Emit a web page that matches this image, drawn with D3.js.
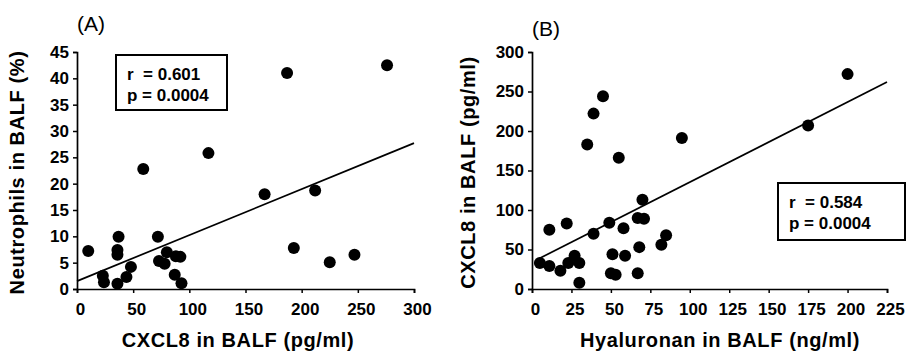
<!DOCTYPE html>
<html>
<head>
<meta charset="utf-8">
<script src="https://cdn.jsdelivr.net/npm/d3@7"></script>
<style>
  body { margin: 0; background: #fff; }
  svg text { font-family: "Liberation Sans", Arial, sans-serif; fill: #000; }
</style>
</head>
<body>
<div id="chart"></div>
<script>
// panel A: CXCL8 vs neutrophils
const cxcl8A = [10, 23, 24, 36, 37, 36, 36, 44, 48, 59, 72, 73, 78, 80, 88, 92, 87, 93, 117, 167, 187, 193, 212, 225, 247, 276];
const neutroA = [7.2, 2.5, 1.3, 1.0, 9.9, 7.4, 6.5, 2.3, 4.2, 22.8, 9.9, 5.3, 4.8, 7.0, 6.2, 6.1, 2.7, 1.1, 25.8, 18.0, 41.0, 7.8, 18.7, 5.1, 6.5, 42.5];
const fitAx = [0, 300];
const fitAy = [1.5, 27.7];
const ticksAx = [0, 50, 100, 150, 200, 250, 300];
const ticksAy = [0, 5, 10, 15, 20, 25, 30, 35, 40, 45];
const statsA = ['r  = 0.601', 'p = 0.0004'];

// panel B: hyaluronan vs CXCL8
const hyalB = [5, 11, 11, 18, 22, 23, 27, 30, 30, 39, 49, 51, 50, 53, 58, 59, 67, 68, 70, 67, 71, 82, 85, 45, 39, 35, 55, 95, 200, 175];
const cxcl8B = [33, 75, 29, 23, 83, 33, 42, 33, 8, 70, 84, 44, 20, 18, 77, 42, 20, 53, 113, 90, 89, 56, 68, 244, 222, 183, 166, 191, 272, 207];
const fitBx = [3, 225];
const fitBy = [37, 262];
const ticksBx = [0, 25, 50, 75, 100, 125, 150, 175, 200, 225];
const ticksBy = [0, 50, 100, 150, 200, 250, 300];
const statsB = ['r  = 0.584', 'p = 0.0004'];

const width = 910;
const height = 359;

const svg = d3.select('#chart')
  .append('svg')
  .attr('width', width)
  .attr('height', height);

function drawPanel(p) {
  const x = d3.scaleLinear().domain(p.xDomain).range([p.left, p.right]);
  const y = d3.scaleLinear().domain(p.yDomain).range([p.bottom, p.top]);
  const g = svg.append('g');

  // axes
  g.append('g')
    .attr('transform', `translate(0,${p.bottom})`)
    .call(d3.axisBottom(x).tickValues(p.xTicks).tickSize(4).tickSizeOuter(4).tickPadding(10))
    .call(a => a.select('.domain').attr('stroke-width', 1.7))
    .call(a => a.selectAll('.tick line').attr('stroke-width', 1.5))
    .call(a => a.selectAll('.tick text')
      .attr('font-size', 17).attr('font-weight', 'bold').attr('dx', 3)
      .style('font-family', '"Liberation Sans", Arial, sans-serif'));

  g.append('g')
    .attr('transform', `translate(${p.left},0)`)
    .call(d3.axisLeft(y).tickValues(p.yTicks).tickSize(4).tickSizeOuter(4).tickPadding(4))
    .call(a => a.select('.domain').attr('stroke-width', 1.7))
    .call(a => a.selectAll('.tick line').attr('stroke-width', 1.5))
    .call(a => a.selectAll('.tick text')
      .attr('font-size', 17).attr('font-weight', 'bold')
      .style('font-family', '"Liberation Sans", Arial, sans-serif'));

  // regression line
  g.append('line')
    .attr('x1', x(p.fitX[0])).attr('y1', y(p.fitY[0]))
    .attr('x2', x(p.fitX[1])).attr('y2', y(p.fitY[1]))
    .attr('stroke', '#000')
    .attr('stroke-width', 1.7);

  // dots
  g.selectAll('circle.dot')
    .data(p.xs.map((v, i) => [v, p.ys[i]]))
    .join('circle')
    .attr('class', 'dot')
    .attr('cx', d => x(d[0]))
    .attr('cy', d => y(d[1]))
    .attr('r', 6)
    .attr('fill', '#000');

  // stats box
  g.append('rect')
    .attr('x', p.box[0]).attr('y', p.box[1])
    .attr('width', p.box[2]).attr('height', p.box[3])
    .attr('fill', '#fff')
    .attr('stroke', '#000')
    .attr('stroke-width', 2);
  g.selectAll('text.stat')
    .data(p.stats)
    .join('text')
    .attr('class', 'stat')
    .attr('x', p.box[0] + 11)
    .attr('y', (d, i) => p.box[1] + 25 + i * 21)
    .attr('font-size', 17)
    .attr('font-weight', 'bold')
    .style('white-space', 'pre')
    .text(d => d);

  // labels
  g.append('text')
    .attr('x', p.left)
    .attr('y', p.letterY)
    .attr('font-size', 21)
    .text(p.letter);

  g.append('text')
    .attr('x', p.xLabelX)
    .attr('y', 347)
    .attr('text-anchor', 'middle')
    .attr('font-size', 20)
    .attr('font-weight', 'bold')
    .attr('letter-spacing', 0.6)
    .text(p.xLabel);

  g.append('text')
    .attr('transform', `translate(${p.yLabelX},${(p.top + p.bottom) / 2 + 2}) rotate(-90)`)
    .attr('text-anchor', 'middle')
    .attr('font-size', 20)
    .attr('font-weight', 'bold')
    .attr('letter-spacing', 0.6)
    .text(p.yLabel);
}

drawPanel({
  xs: cxcl8A, ys: neutroA,
  xDomain: [0, 300], yDomain: [0, 45],
  xTicks: ticksAx, yTicks: ticksAy,
  left: 77, right: 414, top: 52, bottom: 289,
  fitX: fitAx, fitY: fitAy,
  box: [116, 55, 111, 55],
  stats: statsA,
  letter: '(A)', letterY: 31,
  xLabel: 'CXCL8 in BALF (pg/ml)', xLabelX: 238,
  yLabel: 'Neutrophils in BALF (%)', yLabelX: 24
});

drawPanel({
  xs: hyalB, ys: cxcl8B,
  xDomain: [0, 225], yDomain: [0, 300],
  xTicks: ticksBx, yTicks: ticksBy,
  left: 532, right: 887, top: 52, bottom: 289,
  fitX: fitBx, fitY: fitBy,
  box: [778, 183, 127, 57],
  stats: statsB,
  letter: '(B)', letterY: 36,
  xLabel: 'Hyaluronan in BALF (ng/ml)', xLabelX: 720,
  yLabel: 'CXCL8 in BALF (pg/ml)', yLabelX: 475
});
</script>
</body>
</html>
